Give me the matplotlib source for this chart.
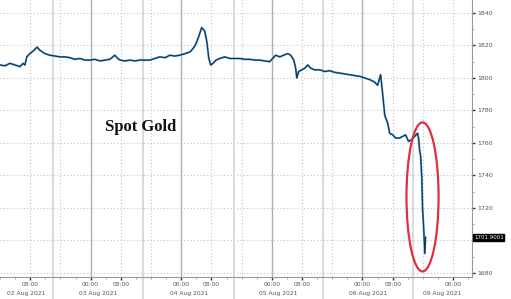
import matplotlib
matplotlib.use("Agg")
import matplotlib.pyplot as plt
from matplotlib.patches import Ellipse
from matplotlib.ticker import MultipleLocator

# hours since 02 Aug 00:00 (weekend removed, as on the Bloomberg axis)
hours = [0.0, 1.3, 2.6, 4.0, 5.3, 6.1, 6.6, 7.1, 7.9, 9.0, 9.8, 10.6, 11.9, 13.2,
         14.6, 15.9, 17.2, 18.5, 19.8, 21.2, 22.5, 23.8, 25.1, 26.5, 27.8, 29.1,
         30.4, 31.2, 31.8, 33.1, 34.4, 35.7, 37.0, 38.4, 39.7, 41.0, 42.3, 43.7,
         45.0, 46.3, 47.6, 49.0, 50.3, 51.1, 51.9, 52.7, 53.4, 54.2, 54.8, 55.3,
         55.8, 56.4, 57.2, 58.2, 59.5, 60.9, 62.2, 63.5, 64.8, 66.1, 67.5, 68.8,
         70.1, 71.4, 72.2, 73.0, 74.1, 75.1, 76.2, 77.0, 77.8, 78.3, 78.6, 79.1,
         79.9, 80.7, 81.5, 82.3, 83.3, 84.7, 86.0, 87.3, 88.6, 90.0, 91.3, 92.6,
         93.9, 95.3, 96.6, 97.9, 99.2, 100.0, 100.8, 101.3, 101.9, 102.7, 103.2,
         104.0, 104.8, 105.8, 106.6, 107.4, 108.2, 109.0, 109.8, 110.6, 110.9,
         111.1, 111.4, 111.7, 111.9, 112.2, 112.5, 112.7]
price = [1808, 1807.5, 1809, 1808, 1807, 1809, 1808, 1813, 1815, 1817, 1819, 1817,
         1815, 1814, 1813.5, 1813, 1813, 1812.5, 1811.5, 1812, 1811, 1811, 1811.5,
         1810.5, 1811, 1811.5, 1814, 1812, 1811, 1810.5, 1811, 1810.5, 1811, 1811,
         1811, 1812, 1813, 1812.5, 1814, 1813.5, 1814, 1815, 1816, 1818, 1821,
         1826, 1831, 1829, 1822, 1812, 1808, 1809, 1811, 1812, 1813, 1812, 1812,
         1812, 1811.5, 1811.5, 1811, 1811, 1810.5, 1810, 1812, 1814, 1813, 1814,
         1815, 1814, 1811, 1806, 1800, 1804, 1805, 1806, 1808, 1806, 1805, 1805,
         1804, 1804.5, 1803.5, 1803, 1802.5, 1802, 1801.5, 1801, 1800, 1799,
         1797.5, 1795.5, 1802, 1791, 1777, 1772, 1766, 1765, 1763, 1763, 1764,
         1765, 1761, 1762, 1764, 1766, 1762, 1756, 1752, 1739, 1720, 1708, 1692,
         1701.9]
last_price = "1701.9001"

time_ticks = [8, 24, 32, 48, 56, 72, 80, 96, 104, 120]
time_labels = ["08:00", "00:00", "08:00", "00:00", "08:00", "00:00", "08:00",
               "00:00", "08:00", "00:00"]
day_names = ["02 Aug 2021", "03 Aug 2021", "04 Aug 2021", "05 Aug 2021",
             "06 Aug 2021", "09 Aug 2021"]
session_breaks = [14, 38, 62, 85.5, 109.3]
session_opens = [16, 40, 64, 88, 112]
midnights = [24, 48, 72, 96]

fig = plt.figure(figsize=(5.11, 2.99), dpi=100)
ax = fig.add_axes([0, 22 / 299, 472 / 511, 277 / 299])
ax.set_xlim(0, 125)
ax.set_ylim(1677.5, 1848)

grid_c = "#c4c4c4"
for y in range(1680, 1841, 20):
    ax.axhline(y, color=grid_c, lw=0.8, ls=(0, (1, 2)), zorder=0)
for x in [8, 32, 56, 80, 104, 120] + session_opens:
    ax.axvline(x, color=grid_c, lw=0.8, ls=(0, (1, 2)), zorder=0)
for x in midnights:
    ax.axvline(x, color="#b0b0b0", lw=1.0, zorder=0)
for x in session_breaks:
    ax.axvline(x, ymin=-22 / 277, ymax=1, color="#d4d4d4", lw=1.2,
               zorder=0, clip_on=False)

ax.plot(hours, price, color="#3d8fd1", lw=1.4, zorder=2)
ax.plot(hours, price, color="#1c2b3a", lw=0.7, zorder=3)

# day labels centred between session breaks
edges = [0] + session_breaks + [125]
for i, name in enumerate(day_names):
    ax.text((edges[i] + edges[i + 1]) / 2, -0.058, name, transform=ax.get_xaxis_transform(),
            ha="center", va="center", fontsize=4.3, color="#555555")

ax.set_xticks(time_ticks)
ax.set_xticklabels(time_labels)
ax.xaxis.set_minor_locator(MultipleLocator(4))
ax.tick_params(axis="x", which="major", length=2, width=1, color="#333333",
               labelsize=4.3, labelcolor="#555555", pad=1.5)
ax.tick_params(axis="x", which="minor", length=1.5, color="#999999")

ax.yaxis.tick_right()
ax.set_yticks(range(1680, 1841, 20))
ax.yaxis.set_minor_locator(MultipleLocator(10))
ax.tick_params(axis="y", which="major", length=2.5, width=1, color="#333333",
               labelsize=4.5, labelcolor="#555555", pad=1.5)
ax.tick_params(axis="y", which="minor", length=1.5, color="#999999")

for s in ["top", "left"]:
    ax.spines[s].set_visible(False)
for s in ["right", "bottom"]:
    ax.spines[s].set_color("#999999")
    ax.spines[s].set_linewidth(0.8)

ax.text(1.004, 1701.9, last_price, transform=ax.get_yaxis_transform(),
        ha="left", va="center", fontsize=4, color="white", zorder=5,
        bbox=dict(boxstyle="square,pad=0.15", fc="black", ec="black"), clip_on=False)

ax.add_patch(Ellipse((111.9, 1726.8), 8.5, 91.7, fill=False,
                     ec="#e0303f", lw=1.6, zorder=4))

ax.text(0.297, 0.54, "Spot Gold", transform=ax.transAxes, ha="center", va="center",
        fontsize=12, fontweight="bold", family="Liberation Serif", color="#111111")

fig.savefig("out.png", dpi=100)
